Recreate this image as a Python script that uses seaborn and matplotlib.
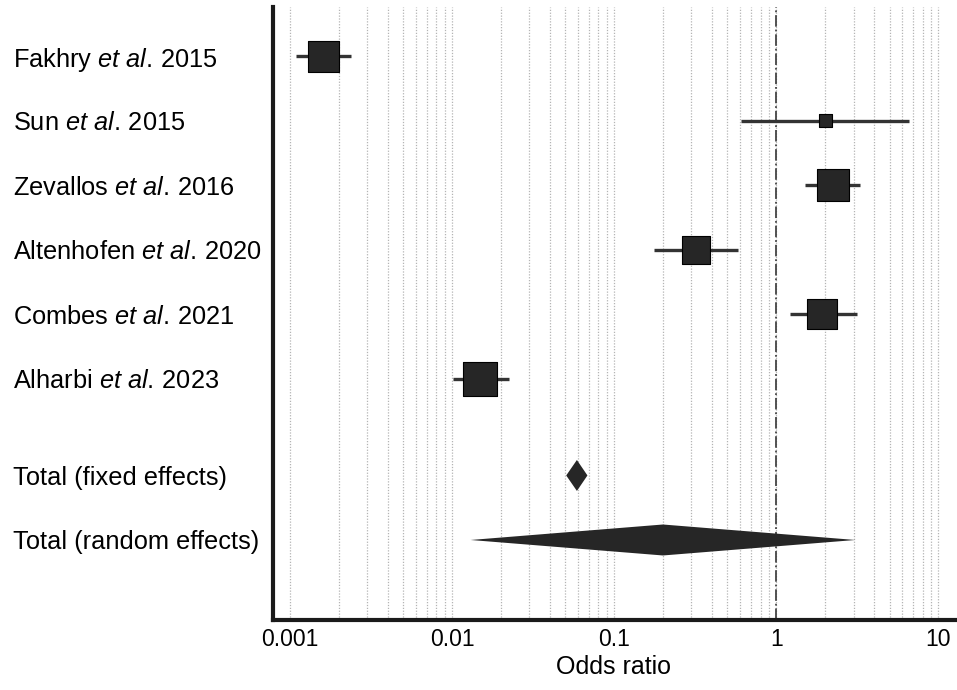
import numpy as np
import pandas as pd
import matplotlib
matplotlib.use("Agg")
import matplotlib.pyplot as plt
import seaborn as sns
from matplotlib.ticker import FixedLocator, NullFormatter

# ---- data ----
studies = ["Fakhry", "Sun", "Zevallos", "Altenhofen", "Combes", "Alharbi"]
years = [2015, 2015, 2016, 2020, 2021, 2023]
odds_ratio = [0.0016, 2.01, 2.23, 0.32, 1.92, 0.0149]
ci_low = [0.00109, 0.605, 1.50, 0.177, 1.22, 0.0102]
ci_high = [0.00238, 6.62, 3.30, 0.58, 3.16, 0.0225]
weights = [19.2, 3.4, 20.5, 15.7, 18.0, 23.1]
total_labels = ["Total (fixed effects)", "Total (random effects)"]
total_or = [0.0589, 0.20]
total_low = [0.0506, 0.0130]
total_high = [0.0684, 3.08]
xtick_values = [0.001, 0.01, 0.1, 1, 10]
xtick_labels = ["0.001", "0.01", "0.1", "1", "10"]

# ---- style ----
sns.set_style("white")
plt.rcParams['font.family'] = ['Liberation Sans', 'DejaVu Sans']
plt.rcParams['mathtext.fontset'] = 'custom'
plt.rcParams['mathtext.rm'] = 'Liberation Sans'
plt.rcParams['mathtext.it'] = 'Liberation Sans:italic'
FS_Y = 18.3
FS_X = 16.5
FS_LAB = 18

study_pos = list(range(len(studies)))
total_pos = [6.5, 7.5]

df = pd.DataFrame({"study": studies, "year": years, "or": odds_ratio,
                   "lo": ci_low, "hi": ci_high, "weight": weights,
                   "pos": study_pos})

fig = plt.figure(figsize=(9.57, 6.9), dpi=100)
ax = fig.add_axes([273 / 957, 1 - 620 / 690, (955 - 273) / 957, (620 - 7) / 690])
ax.set_xscale('log')
ax.set_xlim(0.000785, 12.68)
ax.set_ylim(8.74, -0.76)

# ticks & grid
ax.xaxis.set_major_locator(FixedLocator(xtick_values))
minor = [m * 10.0 ** d for d in range(-3, 1) for m in range(2, 10)]
ax.xaxis.set_minor_locator(FixedLocator(minor))
ax.xaxis.set_minor_formatter(NullFormatter())
ax.set_xticklabels(xtick_labels)
ax.grid(True, which='both', axis='x', color='#b4b4b4', ls=(0, (1, 1.3)), lw=0.9, zorder=0)
ax.grid(False, axis='y')
ax.axvline(1, color='#444444', ls='-.', lw=1.3, zorder=1)

# CI lines
ax.hlines(df["pos"], df["lo"], df["hi"], color='#333333', lw=2.4, zorder=2)

# squares
k = 25.9
size_map = {w: w * k for w in weights}
sns.scatterplot(data=df, x="or", y="pos", size="weight", sizes=size_map,
                marker='s', color='#262626', edgecolor='black', linewidth=0.8,
                legend=False, ax=ax, zorder=3)

# diamonds
h = 0.24
for y, est, lo, hi in zip(total_pos, total_or, total_low, total_high):
    ax.fill([lo, est, hi, est], [y, y - h, y, y + h], color='#262626', zorder=3, lw=0)

# y labels
labels = [f"{s} $\\mathit{{et\\ al.}}$" + f"{y}" for s, y in zip(studies, years)] + total_labels
labels = [f"{s} $\\mathit{{et\\ al.}}\\,${y}" for s, y in zip(studies, years)] + total_labels
ax.set_yticks(study_pos + total_pos)
ax.set_yticklabels(labels, fontsize=FS_Y, ha='left')
ax.tick_params(axis='y', direction='in', length=10, width=1.5, color='#808080',
               pad=(273 - 13) / 1.389, labelcolor='black')
ax.tick_params(axis='x', which='major', direction='in', length=10, width=1.2,
               color='#444444', labelsize=FS_X, pad=6, labelcolor='black')
ax.tick_params(axis='x', which='minor', direction='in', length=6.5, width=1.0,
               color='#555555')

for s in ['top', 'right']:
    ax.spines[s].set_visible(False)
for s in ['left', 'bottom']:
    ax.spines[s].set_linewidth(3)
    ax.spines[s].set_color('#1a1a1a')

ax.set_xlabel("Odds ratio", fontsize=FS_LAB, labelpad=3, color='black')
ax.set_ylabel("")

fig.savefig("out.png", dpi=100)
